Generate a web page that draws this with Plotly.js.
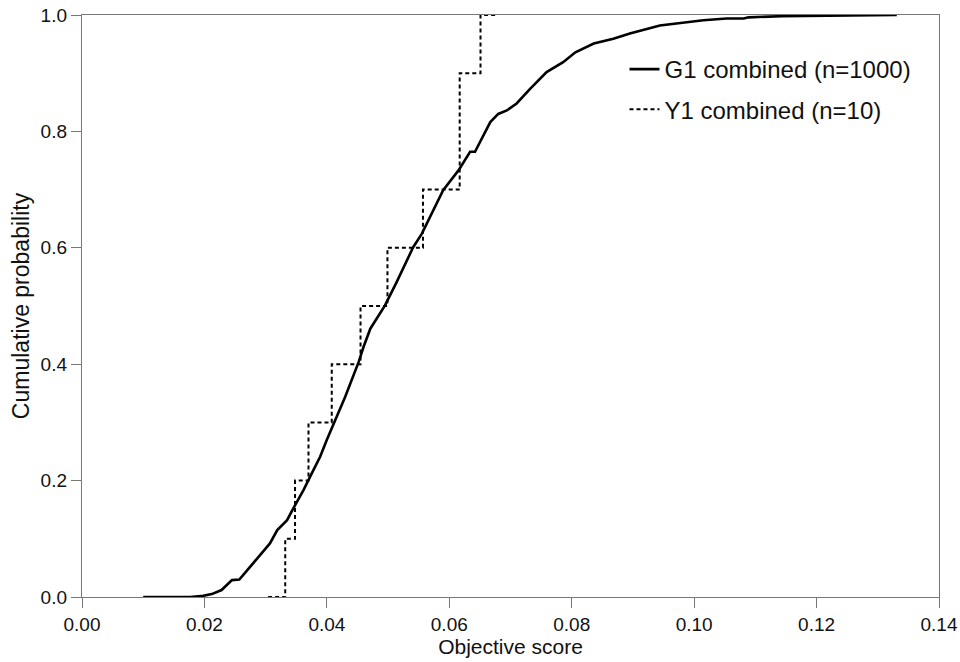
<!DOCTYPE html>
<html>
<head>
<meta charset="utf-8">
<script src="https://cdn.plot.ly/plotly-3.0.1.min.js"></script>
<style>html,body{margin:0;padding:0;background:#fff;}#chart{width:960px;height:662px;}</style>
</head>
<body>
<div id="chart"></div>
<script>
const g1Score = [0.0100, 0.0177, 0.0198, 0.0212, 0.0228, 0.0245, 0.0257, 0.0272, 0.0291, 0.0307,
  0.0319, 0.0335, 0.0345, 0.0362, 0.0378, 0.0389, 0.0400, 0.0413, 0.0430, 0.0452, 0.0460,
  0.0471, 0.0495, 0.0514, 0.0533, 0.0541, 0.0555, 0.0574, 0.0590, 0.0615, 0.0634, 0.0642,
  0.0653, 0.0667, 0.0680, 0.0694, 0.0710, 0.0727, 0.0732, 0.0759, 0.0786, 0.0806, 0.0836,
  0.0868, 0.0895, 0.0944, 0.0977, 0.1015, 0.1053, 0.1081, 0.1089, 0.1130, 0.1143, 0.1331];
const g1Prob = [0.000, 0.000, 0.002, 0.005, 0.012, 0.029, 0.030, 0.049, 0.072, 0.092,
  0.115, 0.132, 0.152, 0.184, 0.218, 0.241, 0.270, 0.301, 0.344, 0.404, 0.430,
  0.461, 0.501, 0.541, 0.582, 0.601, 0.624, 0.664, 0.699, 0.733, 0.765, 0.765,
  0.788, 0.816, 0.830, 0.836, 0.848, 0.868, 0.873, 0.902, 0.919, 0.936, 0.951,
  0.959, 0.968, 0.982, 0.986, 0.991, 0.994, 0.994, 0.996, 0.998, 0.998, 1.000];

// Y1 combined (n=10): step ECDF
const y1Score = [0.0304, 0.0332, 0.0348, 0.0370, 0.0408, 0.0455, 0.0499, 0.0557, 0.0617, 0.0651, 0.0675];
const y1Prob  = [0.0, 0.1, 0.2, 0.3, 0.4, 0.5, 0.6, 0.7, 0.9, 1.0, 1.0];

const xTicks = [0, 0.02, 0.04, 0.06, 0.08, 0.10, 0.12, 0.14];
const xTickLabels = ['0.00', '0.02', '0.04', '0.06', '0.08', '0.10', '0.12', '0.14'];
const yTicks = [0, 0.2, 0.4, 0.6, 0.8, 1.0];
const yTickLabels = ['0.0', '0.2', '0.4', '0.6', '0.8', '1.0'];

const FONT = 'Liberation Sans, Arial, sans-serif';

const traces = [
  {
    x: g1Score, y: g1Prob, type: 'scatter', mode: 'lines',
    name: 'G1 combined (n=1000)', legendgroup: 'a',
    line: {color: '#000', width: 2.6, shape: 'linear'}
  },
  {
    x: y1Score, y: y1Prob, type: 'scatter', mode: 'lines',
    name: 'Y1 combined (n=10)', legendgroup: 'b',
    line: {color: '#000', width: 2, shape: 'hv', dash: '4px,3px'}
  }
];

const axisCommon = {
  showgrid: false, zeroline: false, showline: true, mirror: true,
  linecolor: '#777', linewidth: 1.2,
  ticks: 'outside', ticklen: 10, tickwidth: 1, tickcolor: '#777',
  tickfont: {family: FONT, size: 19, color: '#111'},
  automargin: false
};

const layout = {
  width: 960, height: 662,
  margin: {l: 82, r: 21, t: 15, b: 65},
  paper_bgcolor: '#fff', plot_bgcolor: '#fff',
  font: {family: FONT, color: '#111'},
  showlegend: true,
  legend: {
    x: 0.633, y: 0.945, xanchor: 'left', yanchor: 'top',
    bgcolor: 'rgba(0,0,0,0)', borderwidth: 0,
    font: {family: FONT, size: 24, color: '#111'},
    tracegroupgap: 6
  },
  xaxis: Object.assign({}, axisCommon, {
    range: [0, 0.14], tickvals: xTicks, ticktext: xTickLabels,
    title: {text: 'Objective score', font: {family: FONT, size: 21, color: '#111'}, standoff: 4}
  }),
  yaxis: Object.assign({}, axisCommon, {
    range: [0, 1], tickvals: yTicks, ticktext: yTickLabels,
    title: {text: 'Cumulative probability', font: {family: FONT, size: 23, color: '#111'}, standoff: 4}
  })
};

Plotly.newPlot('chart', traces, layout, {staticPlot: true, displayModeBar: false});
</script>
</body>
</html>
